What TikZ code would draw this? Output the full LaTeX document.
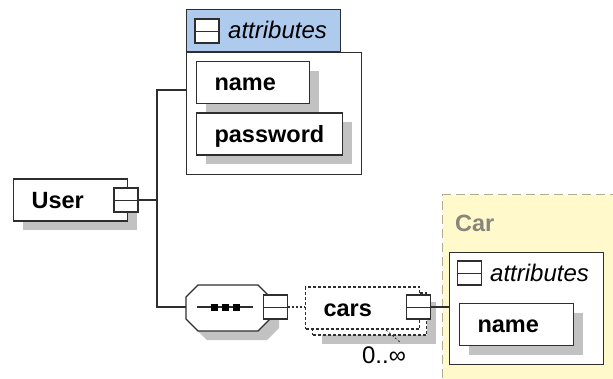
\documentclass[tikz,border=0pt]{standalone}
\usepackage{fontspec}
\setmainfont{Liberation Sans}
\usetikzlibrary{shadows}

\definecolor{hdrblue}{HTML}{AECBEE}
\definecolor{grpyellow}{HTML}{FFF9CC}
\definecolor{grpedge}{HTML}{B4AD8C}
\definecolor{shade}{HTML}{C2C2C2}
\definecolor{ink}{HTML}{2E2E2E}
\definecolor{cartext}{HTML}{86867A}

\tikzset{
  fs/.style={font=\fontsize{24}{28}\selectfont},
  shd/.style={general shadow={fill=shade, shadow xshift=9pt, shadow yshift=-9pt}},
  box/.style={draw=ink, line width=1.1pt, fill=white, inner xsep=18pt, inner ysep=0pt,
    minimum height=42pt, text height=16pt, text depth=0pt, align=left, anchor=west,
    font=\fontsize{23.5}{27}\selectfont\bfseries},
  element/.style={box, shd},
  expander/.style={draw=ink, line width=1.1pt, fill=white, minimum size=24pt, inner sep=0pt,
    path picture={\draw[ink, line width=1pt] (path picture bounding box.west) -- (path picture bounding box.east);}},
  frame/.style={draw=ink, line width=1.1pt, inner sep=0pt},
  conn/.style={draw=ink, line width=1.1pt},
  dashbox/.style={dash pattern=on 3pt off 2pt},
  label/.style={inner sep=0pt, anchor=base west},
}

\begin{document}
\begin{tikzpicture}[x=1pt, y=-1pt]
  \useasboundingbox (0,0) rectangle (613,378);
  \clip (0,0) rectangle (613,378);

  % complex type Car (yellow group, running off the page)
  \node[draw=grpedge, line width=1.1pt, dash pattern=on 9pt off 5pt, fill=grpyellow,
        minimum width=200pt, minimum height=210pt, anchor=north west, inner sep=0pt]
        (cargrp) at (442,194) {};
  \node[label, font=\fontsize{23.5}{27}\selectfont\bfseries, text=cartext] (cartitle) at (455,231) {Car};

  % attributes of Car
  \node[frame, fill=white, minimum width=154pt, minimum height=112pt, anchor=north west]
        (carattr) at (449,252) {};
  \node[expander] (carattrx) at (469.5,273) {};
  \node[label, font=\fontsize{24}{28}\selectfont\itshape] (carattrlbl) at (490,281) {attributes};
  \node[element, text width=78pt] (carname) at (459,324.5) {name};

  % attributes of User
  \node[frame, fill=white, minimum width=175pt, minimum height=122pt, anchor=north west]
        (attrbody) at (186,52) {};
  \node[frame, fill=hdrblue, minimum width=154pt, minimum height=42pt, anchor=south west]
        (attrhead) at (186,52) {};
  \node[expander] (attrx) at (207,31) {};
  \node[label, font=\fontsize{24}{28}\selectfont\itshape] (attrlbl) at (228,38) {attributes};
  \node[element, text width=77pt] (name) at (196,82.5) {name};
  \node[element, text width=110pt] (password) at (196,134) {password};

  % User element
  \node[element, text width=78pt] (user) at (13,200) {User};
  \node[expander] (userx) at (126,200) {};

  % sequence compositor (octagon with three dots)
  \path[draw=ink, line width=1.1pt, fill=white, shd]
    (186,297) -- (198,285) -- (258,285) -- (270,297) -- (270,319)
    -- (258,331) -- (198,331) -- (186,319) -- cycle;
  \coordinate (seqin) at (186,307);
  \coordinate (seqa) at (197,307);
  \coordinate (seqb) at (253,307);
  \draw[ink, line width=1.1pt] (seqa) -- (seqb);
  \foreach \cx in {214.5,225.5,236.5}
    \fill[black] (\cx-3.5,303.5) rectangle (\cx+3.5,310.5);
  \node[expander] (seqx) at (275.5,307) {};

  % cars element, unbounded
  \node[box, dashbox, shd, text width=78pt] (carsback) at (312,314) {\phantom{cars}};
  \node[box, dashbox, text width=78pt] (cars) at (305,308) {cars};
  \node[expander] (carsx) at (418.5,307) {};
  \node[inner sep=0pt, anchor=base, fs] (occurs) at (384,363) {0..∞};
  \coordinate (occA) at (386,330);
  \coordinate (occB) at (401,343);
  \draw[ink, line width=0.8pt, dash pattern=on 2pt off 2pt] (occA) -- (occB);

  % connectors
  \coordinate (trunk) at (157,200);
  \coordinate (attrin) at (186,90);
  \draw[conn] (userx.east) -- (trunk);
  \draw[conn] (trunk) |- (attrin);
  \draw[conn] (trunk) |- (seqin);
  \draw[conn, dash pattern=on 2pt off 2pt] (seqx.east) -- (cars.west |- seqx.east);
  \draw[conn] (carsx.east) -- (carattr.west |- carsx.east);
\end{tikzpicture}
\end{document}
